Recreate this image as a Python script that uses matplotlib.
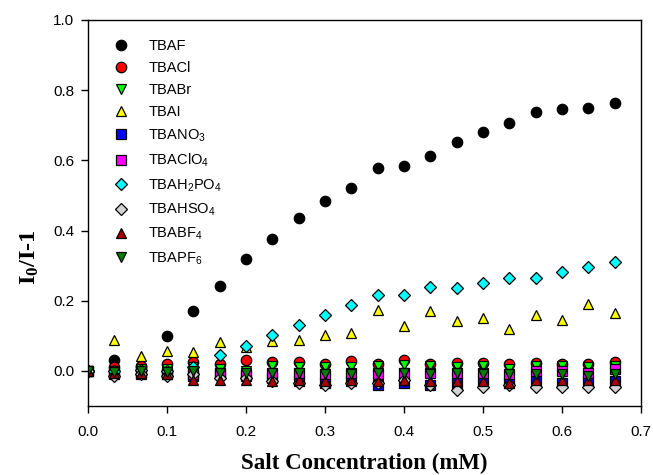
import numpy as np
import matplotlib
matplotlib.use("Agg")
import matplotlib.pyplot as plt

plt.rcParams["font.family"] = "Liberation Sans"
plt.rcParams["mathtext.default"] = "regular"

# ---------------------------------------------------------------------------
# Data: salt concentration (mM) and I0/I-1 for each TBA salt
# ---------------------------------------------------------------------------
conc = [0.0, 0.0333, 0.0667, 0.1, 0.1333, 0.1667, 0.2, 0.2333, 0.2667, 0.3,
        0.3333, 0.3667, 0.4, 0.4333, 0.4667, 0.5, 0.5333, 0.5667, 0.6,
        0.6333, 0.6667]

tbaf = [0.0, 0.03, 0.01, 0.10, 0.17, 0.243, 0.318, 0.375, 0.437, 0.485,
        0.52, 0.578, 0.583, 0.612, 0.652, 0.68, 0.705, 0.738, 0.745,
        0.75, 0.763]
tbacl = [0.0, 0.012, 0.015, 0.02, 0.025, 0.02, 0.032, 0.025, 0.025, 0.02,
         0.027, 0.02, 0.03, 0.02, 0.022, 0.022, 0.02, 0.022, 0.02, 0.02, 0.025]
tbabr = [0.0, 0.0, 0.005, 0.005, 0.01, 0.005, 0.0, 0.015, 0.012, 0.012,
         0.01, 0.015, 0.018, 0.015, 0.012, 0.015, 0.005, 0.015, 0.015, 0.01,
         0.015]
tbai = [0.0, 0.088, 0.042, 0.057, 0.053, 0.082, 0.068, 0.086, 0.088, 0.101,
        0.107, 0.174, 0.127, 0.172, 0.142, 0.15, 0.118, 0.159, 0.145, 0.192,
        0.166]
tbano3 = [0.0, -0.01, -0.01, -0.01, -0.015, -0.01, -0.015, -0.02, -0.03,
          -0.035, -0.03, -0.04, -0.035, -0.04, -0.035, -0.035, -0.035, -0.03,
          -0.035, -0.03, -0.03]
tbaclo4 = [0.0, -0.005, -0.005, -0.005, -0.01, -0.005, -0.01, -0.005, -0.005,
           -0.01, -0.005, -0.01, -0.005, -0.005, -0.005, -0.005, -0.01, 0.0,
           0.0, -0.005, 0.005]
tbah2po4 = [0.0, 0.0, 0.002, 0.0, 0.01, 0.045, 0.072, 0.101, 0.131, 0.16,
            0.188, 0.216, 0.216, 0.238, 0.237, 0.251, 0.266, 0.266, 0.281,
            0.296, 0.309]
tbahso4 = [0.0, -0.015, -0.01, -0.015, -0.01, -0.02, -0.02, -0.03, -0.035,
           -0.04, -0.035, -0.035, -0.025, -0.04, -0.055, -0.045, -0.04,
           -0.045, -0.045, -0.045, -0.045]
tbabf4 = [0.0, -0.005, -0.005, -0.01, -0.025, -0.025, -0.025, -0.03, -0.025,
          -0.03, -0.025, -0.03, -0.025, -0.03, -0.03, -0.03, -0.035, -0.025,
          -0.025, -0.025, -0.025]
tbapf6 = [0.0, -0.002, 0.0, -0.002, 0.0, -0.005, -0.005, -0.005, -0.005,
          -0.01, -0.01, -0.005, -0.005, -0.01, -0.005, -0.01, -0.01, -0.01,
          -0.01, -0.015, -0.01]

labels = ["TBAF", "TBACl", "TBABr", "TBAI", "TBANO$_3$", "TBAClO$_4$",
          "TBAH$_2$PO$_4$", "TBAHSO$_4$", "TBABF$_4$", "TBAPF$_6$"]
series = [tbaf, tbacl, tbabr, tbai, tbano3, tbaclo4, tbah2po4, tbahso4,
          tbabf4, tbapf6]
markers = ["o", "o", "v", "^", "s", "s", "D", "D", "^", "v"]
colors = ["black", "#ff0000", "#00ff00", "#ffff00", "#0000ff", "#ff00ff",
          "#00ffff", "#d3d3d3", "#aa0000", "#008000"]
sizes = [7.5, 7.5, 7.5, 7.5, 6.5, 6.5, 6.5, 6.5, 7.5, 7.5]

# ---------------------------------------------------------------------------
# Figure
# ---------------------------------------------------------------------------
fig = plt.figure(figsize=(6.53, 4.75), dpi=100)
ax = fig.add_axes([0.1348, 0.1453, 0.8468, 0.8127])

for y, lab, m, c, s in zip(series, labels, markers, colors, sizes):
    ax.plot(conc, y, linestyle="none", marker=m, markersize=s,
            markerfacecolor=c, markeredgecolor="black",
            markeredgewidth=0.9, label=lab)

ax.set_xlim(0, 0.7)
ax.set_ylim(-0.1, 1.0)
ax.set_xticks(np.arange(0, 0.71, 0.1))
ax.set_yticks(np.arange(0, 1.01, 0.2))
ax.tick_params(direction="out", length=5, width=1, labelsize=11)
ax.tick_params(axis="x", pad=9)
ax.tick_params(axis="y", pad=5)
for sp in ax.spines.values():
    sp.set_linewidth(1.0)

ax.set_xlabel("Salt Concentration (mM)", family="Liberation Serif",
              fontweight="bold", fontsize=16.5, labelpad=10)
ax.set_ylabel("I$_0$/I-1", family="Liberation Serif",
              fontweight="bold", fontsize=17.5)
ax.yaxis.set_label_coords(-0.085, 0.385)

ax.legend(loc="upper left", bbox_to_anchor=(0.03, 0.965), frameon=False,
          fontsize=10.5, handletextpad=1.1, labelspacing=0.55,
          borderaxespad=0.0, handlelength=1.5)

fig.savefig("out.png", dpi=100)
